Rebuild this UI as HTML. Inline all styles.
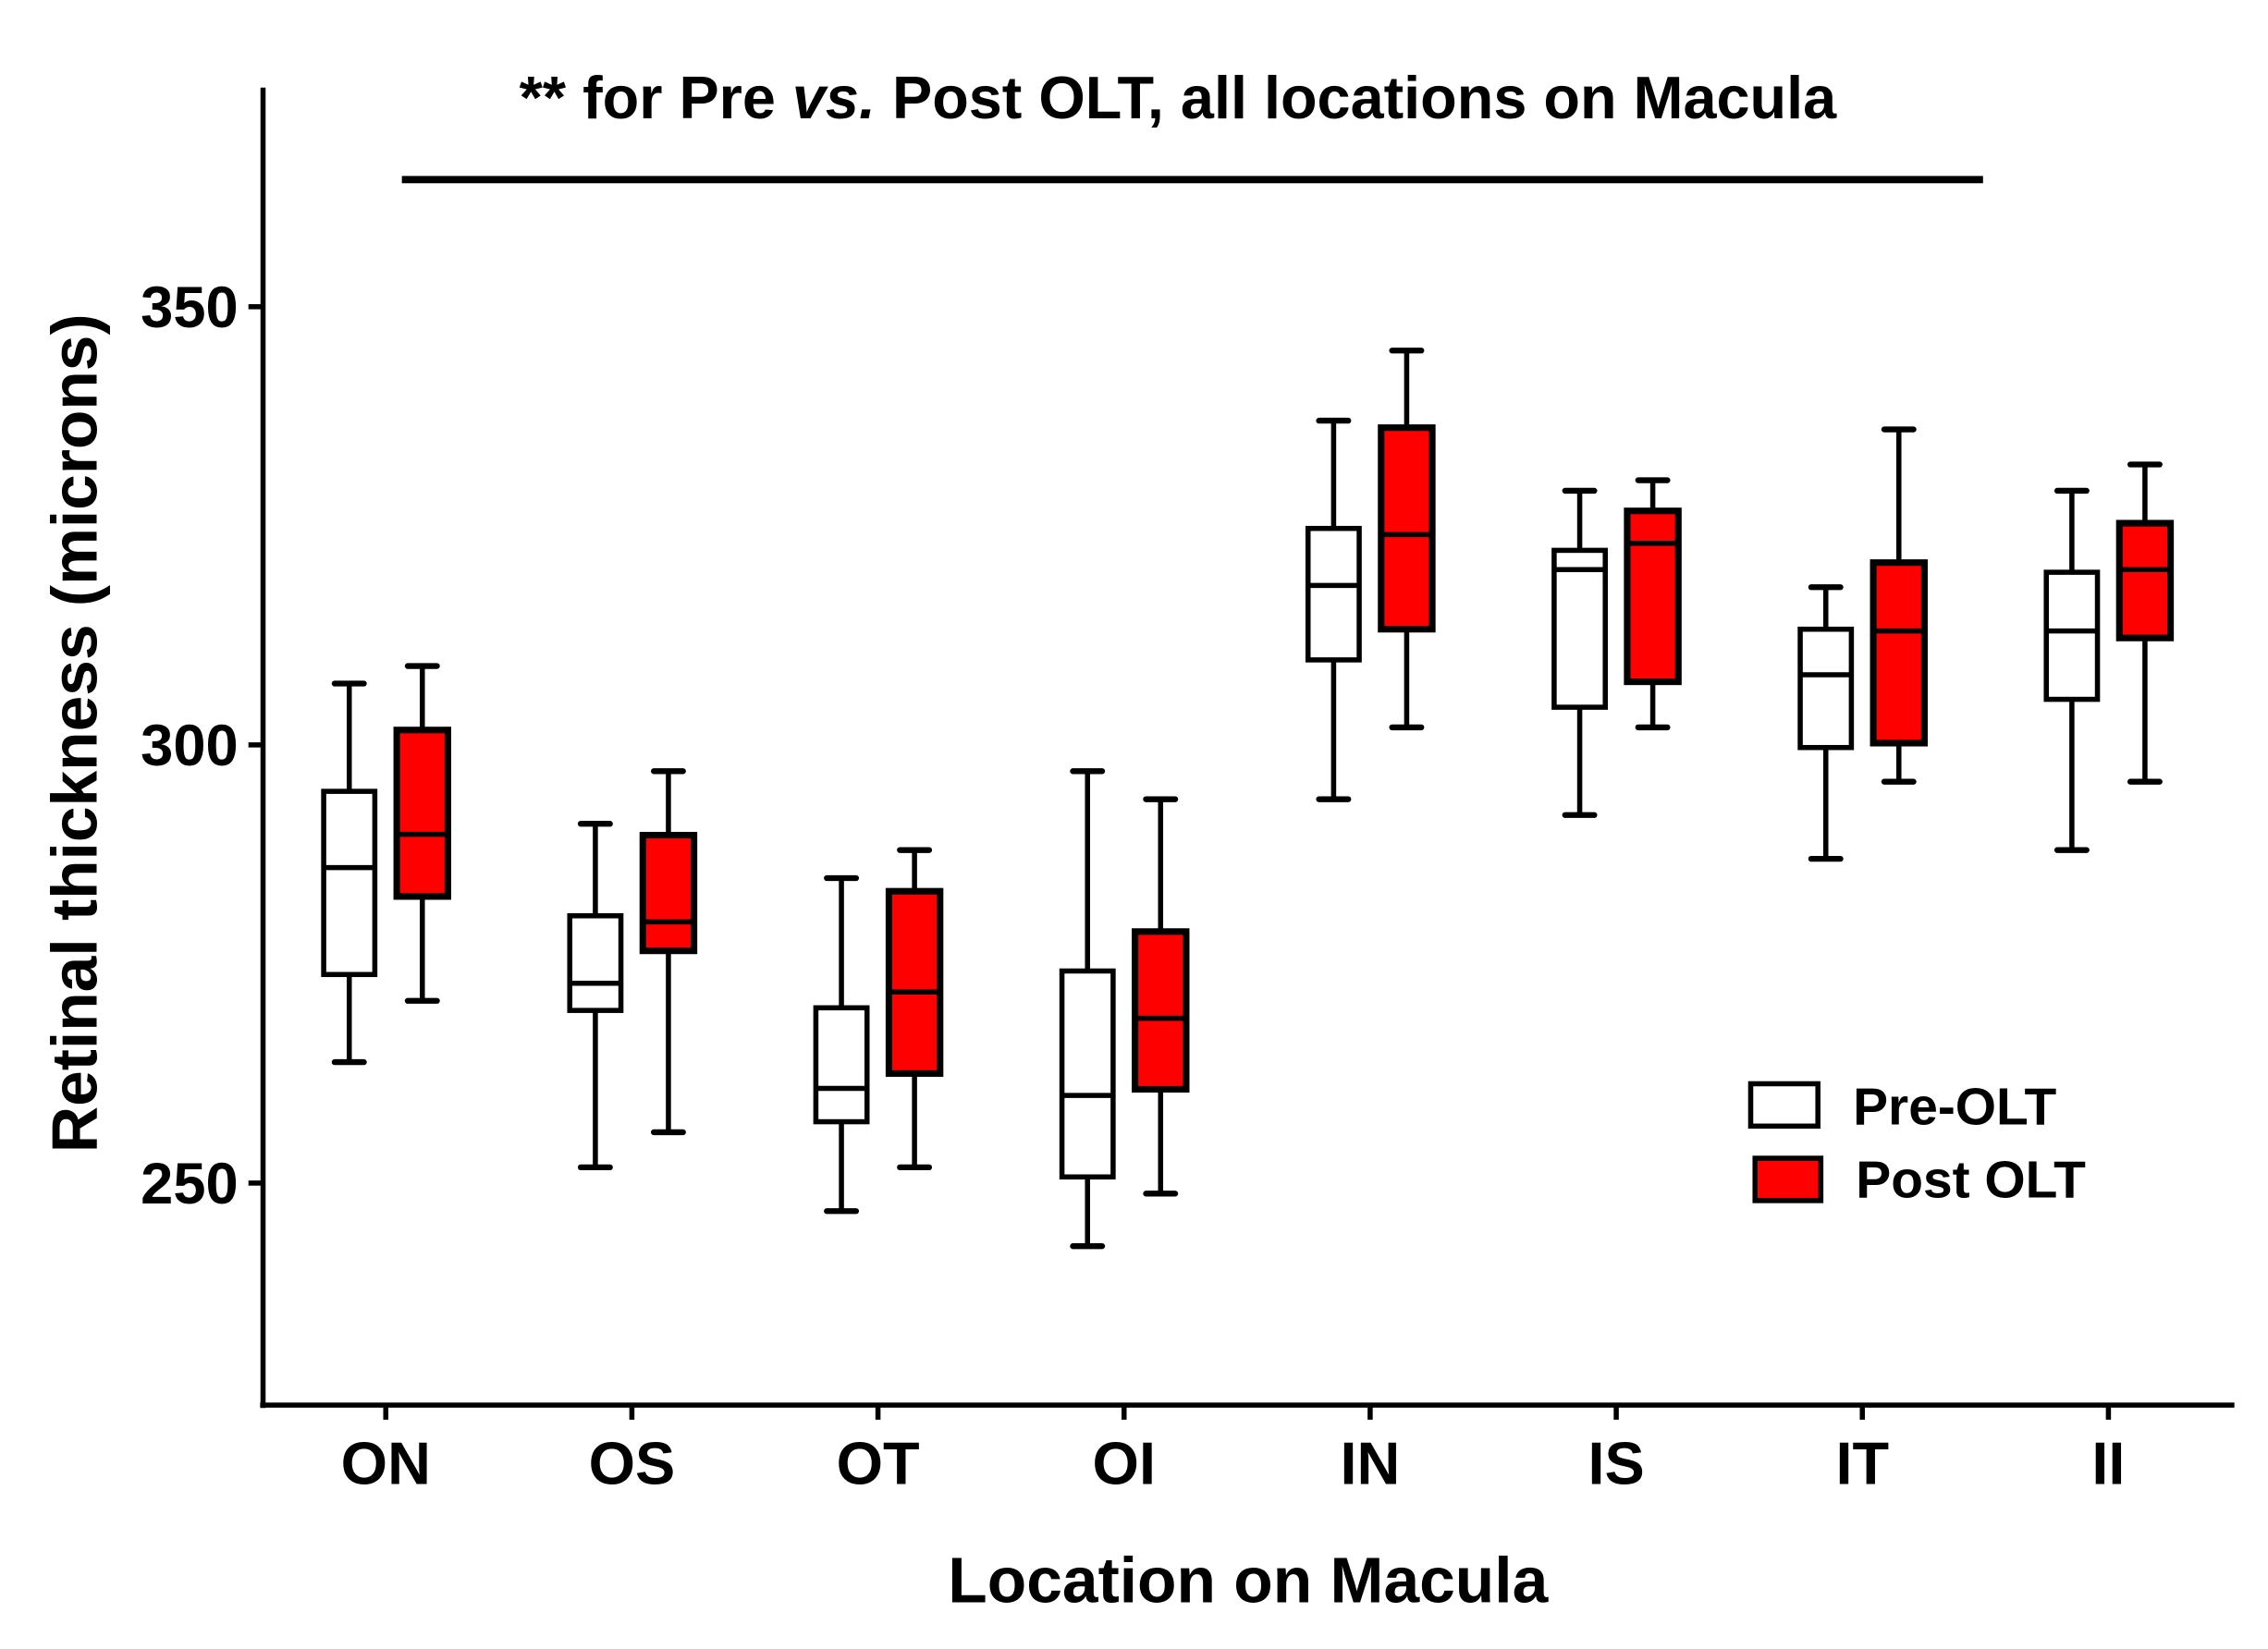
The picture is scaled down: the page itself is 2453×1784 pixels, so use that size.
<!DOCTYPE html>
<html><head><meta charset="utf-8"><style>html,body{margin:0;padding:0;background:#fff}svg{display:block}text{font-family:"Liberation Sans",Arial,sans-serif;font-weight:bold;fill:#000}</style></head>
<body>
<svg id="chart" width="2453" height="1784" viewBox="0 0 1552 1129" preserveAspectRatio="none" xmlns="http://www.w3.org/2000/svg">
<rect width="1552" height="1129" fill="#fff"/>
<text x="806" y="81" font-size="41" text-anchor="middle">** for Pre <tspan font-style="italic">vs.</tspan> Post OLT, all locations on Macula</text>
<line x1="275" y1="123" x2="1357" y2="123" stroke="#000" stroke-width="5"/>
<g id="plot"></g>
<line x1="180" y1="60" x2="180" y2="964" stroke="#000" stroke-width="3.5"/>
<line x1="178" y1="962" x2="1529" y2="962" stroke="#000" stroke-width="3.5"/>
<text transform="translate(66,502) rotate(-90)" font-size="44" text-anchor="middle">Retinal thickness (microns)</text>
<text x="854" y="1097" font-size="44" text-anchor="middle">Location on Macula</text>
<g>
<rect x="1198" y="742" width="46" height="29" fill="#fff" stroke="#000" stroke-width="3.5"/>
<text x="1268" y="770" font-size="36">Pre-OLT</text>
<rect x="1201" y="793" width="45" height="29" fill="#f00" stroke="#000" stroke-width="3.5"/>
<text x="1270" y="820" font-size="36">Post OLT</text>
</g>
</svg>
<script>
const categories=["ON","OS","OT","OI","IN","IS","IT","II"];
const preLow=[263.8,251.8,246.8,242.8,293.8,292,287,288];
const preQ1=[273.8,269.7,257,250.7,309.7,304.3,299.7,305.2];
const preMed=[286,272.8,260.8,260,318.2,320,308,313];
const preQ3=[294.7,280.5,270,274.2,324.7,322.2,313.2,319.7];
const preHigh=[307,291,284.8,297,337,329,318,329];
const postLow=[270.8,255.8,251.8,248.8,302,302,295.8,295.8];
const postQ1=[282.7,276.5,262.5,260.7,313.2,307.2,300.2,312.2];
const postMed=[289.8,279.8,271.8,268.8,324,323,313,320];
const postQ3=[301.7,289.7,283.3,278.7,336.2,326.7,320.8,325.3];
const postHigh=[309,297,288,293.8,345,330.2,336,332];
const yTicks=[250,300,350];
const NS="http://www.w3.org/2000/svg";
const g=document.getElementById('plot');
const y=v=>510-(v-300)*6;
const x=i=>264+i*168.4;
function mk(tag,attrs){const e=document.createElementNS(NS,tag);for(const k in attrs)e.setAttribute(k,attrs[k]);g.appendChild(e);return e;}
yTicks.forEach(t=>{
 let l=mk('line',{x1:170,x2:180,y1:y(t),y2:y(t),stroke:'#000','stroke-width':3.5});
 
 
 let tx=mk('text',{x:163,y:y(t)+14,'font-size':40,'text-anchor':'end'});tx.textContent=t;
 
 
});
categories.forEach((c,i)=>{
 let l=mk('line',{x1:x(i),x2:x(i),y1:962,y2:972,stroke:'#000','stroke-width':3.5});
 
 
 let tx=mk('text',{x:x(i),y:1016,'font-size':41,'text-anchor':'middle'});tx.textContent=c;
 
 
 const series=[[-25,'#fff',preLow,preQ1,preMed,preQ3,preHigh,'pre'],[25,'#f00',postLow,postQ1,postMed,postQ3,postHigh,'post']];
 series.forEach(([off,fill,lo,q1,md,q3,hi,nm])=>{
  const cx=x(i)+off,w=35,sw=fill==='#f00'?4.5:3.5;
  let wl=mk('line',{x1:cx,x2:cx,y1:y(lo[i]),y2:y(hi[i]),stroke:'#000','stroke-width':3.5});
  
  
  [lo[i],hi[i]].forEach(v=>{let cp=mk('line',{x1:cx-10,x2:cx+10,y1:y(v),y2:y(v),stroke:'#000','stroke-width':4,'stroke-linecap':'round'});
   
   });
  let b=mk('rect',{x:cx-w/2,y:y(q3[i]),width:w,height:y(q1[i])-y(q3[i]),fill:fill,stroke:'#000','stroke-width':sw});
  
  
  let m=mk('line',{x1:cx-w/2,x2:cx+w/2,y1:y(md[i]),y2:y(md[i]),stroke:'#000','stroke-width':3.5});
  
  
 });
});
</script>
</body></html>
